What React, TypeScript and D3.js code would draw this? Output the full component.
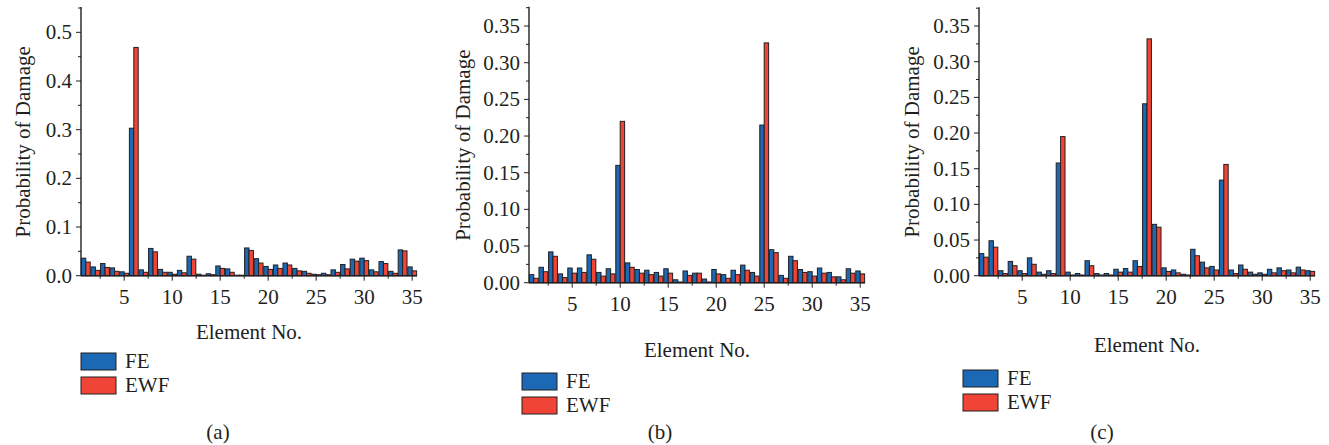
import React from "react";
import * as d3 from "d3";

// Element numbers 1..35
const elements: number[] = d3.range(1, 36);

// Panel (a)
const feA = [0.036, 0.018, 0.025, 0.016, 0.008, 0.303, 0.012, 0.056, 0.013, 0.007, 0.011, 0.040, 0.003, 0.004, 0.020, 0.014, 0.001, 0.057, 0.035, 0.019, 0.022, 0.026, 0.015, 0.009, 0.003, 0.005, 0.012, 0.023, 0.034, 0.036, 0.012, 0.029, 0.009, 0.053, 0.018];
const ewfA = [0.028, 0.011, 0.017, 0.009, 0.005, 0.469, 0.007, 0.049, 0.007, 0.003, 0.006, 0.034, 0.001, 0.002, 0.015, 0.007, 0.001, 0.052, 0.026, 0.013, 0.015, 0.022, 0.010, 0.005, 0.002, 0.002, 0.007, 0.014, 0.030, 0.031, 0.008, 0.025, 0.005, 0.051, 0.010];

// Panel (b)
const feB = [0.011, 0.021, 0.042, 0.012, 0.020, 0.020, 0.038, 0.014, 0.019, 0.160, 0.027, 0.018, 0.017, 0.014, 0.019, 0.004, 0.016, 0.013, 0.005, 0.018, 0.011, 0.017, 0.024, 0.014, 0.215, 0.045, 0.010, 0.036, 0.018, 0.015, 0.020, 0.014, 0.008, 0.019, 0.016];
const ewfB = [0.006, 0.015, 0.036, 0.007, 0.013, 0.014, 0.032, 0.009, 0.012, 0.220, 0.021, 0.013, 0.011, 0.009, 0.013, 0.001, 0.010, 0.013, 0.001, 0.012, 0.006, 0.011, 0.017, 0.009, 0.327, 0.041, 0.006, 0.030, 0.014, 0.009, 0.013, 0.008, 0.004, 0.013, 0.012];

// Panel (c)
const feC = [0.031, 0.049, 0.007, 0.020, 0.007, 0.025, 0.005, 0.007, 0.158, 0.005, 0.003, 0.021, 0.003, 0.003, 0.009, 0.010, 0.021, 0.241, 0.072, 0.011, 0.008, 0.002, 0.037, 0.019, 0.013, 0.134, 0.008, 0.015, 0.005, 0.004, 0.009, 0.011, 0.008, 0.012, 0.007];
const ewfC = [0.026, 0.040, 0.003, 0.014, 0.003, 0.016, 0.002, 0.003, 0.195, 0.001, 0.001, 0.014, 0.001, 0.001, 0.005, 0.005, 0.013, 0.332, 0.068, 0.006, 0.004, 0.001, 0.028, 0.011, 0.008, 0.156, 0.003, 0.009, 0.002, 0.002, 0.004, 0.007, 0.004, 0.008, 0.006];

const xTickValues = [5, 10, 15, 20, 25, 30, 35];
const xMinorTicks = [2.5, 7.5, 12.5, 17.5, 22.5, 27.5, 32.5];
const seriesNames = ["FE", "EWF"];
const captions = ["(a)", "(b)", "(c)"];

const BLUE = "#1b69b4";
const RED = "#ef4436";
const INK = "#231f20";
const textStyle: React.CSSProperties = {
  fontFamily: '"Liberation Serif", "Times New Roman", Times, serif',
  fontSize: "21px",
};

type PanelProps = {
  fe: number[];
  ewf: number[];
  axisX: number;
  xEnd: number;
  top: number;
  base: number;
  yMax: number;
  major: number;
  minor: number;
  fmt: string;
  yLabelX: number;
  titleY: number;
  legendX: number;
  legendY: number;
  caption: string;
  captionX: number;
};

function Panel(p: PanelProps) {
  const x = d3.scaleLinear().domain([0.5, 35.5]).range([p.axisX, p.xEnd]);
  const y = d3.scaleLinear().domain([0, p.yMax]).range([p.base, p.top]);
  const step = x(2) - x(1);
  const barW = step * 0.46;
  const fmt = d3.format(p.fmt);
  const nMajor = Math.floor(p.yMax / p.major + 1e-9);
  const yMajor = d3.range(0, nMajor + 1).map((i) => +(i * p.major).toFixed(4));
  const nMinor = Math.floor(p.yMax / p.minor + 1e-9);
  const yMinor = d3
    .range(0, nMinor + 1)
    .map((i) => +(i * p.minor).toFixed(4))
    .filter((v) => !yMajor.some((m) => Math.abs(m - v) < 1e-6));

  return (
    <g fill={INK}>
      {/* bars */}
      {elements.map((e, i) => (
        <g key={e}>
          <rect
            x={x(e) - barW}
            y={y(p.fe[i])}
            width={barW}
            height={p.base - y(p.fe[i])}
            fill={BLUE}
            stroke={INK}
            strokeWidth={1}
          />
          <rect
            x={x(e)}
            y={y(p.ewf[i])}
            width={barW}
            height={p.base - y(p.ewf[i])}
            fill={RED}
            stroke={INK}
            strokeWidth={1}
          />
        </g>
      ))}
      {/* axes */}
      <line x1={p.axisX} x2={p.axisX} y1={p.top - 1} y2={p.base} stroke={INK} strokeWidth={1.4} />
      <line x1={p.axisX} x2={p.xEnd} y1={p.base} y2={p.base} stroke={INK} strokeWidth={1.4} />
      {yMajor.map((v) => (
        <g key={"ym" + v}>
          <line x1={p.axisX - 5} x2={p.axisX} y1={y(v)} y2={y(v)} stroke={INK} strokeWidth={1} />
          <text x={p.axisX - 9} y={y(v) + 7} textAnchor="end" style={textStyle}>
            {fmt(v)}
          </text>
        </g>
      ))}
      {yMinor.map((v) => (
        <line key={"yn" + v} x1={p.axisX - 3} x2={p.axisX} y1={y(v)} y2={y(v)} stroke={INK} strokeWidth={1} />
      ))}
      {xTickValues.map((v) => (
        <g key={"xm" + v}>
          <line x1={x(v)} x2={x(v)} y1={p.base} y2={p.base + 5} stroke={INK} strokeWidth={1} />
          <text x={x(v)} y={p.base + 28} textAnchor="middle" style={textStyle}>
            {v}
          </text>
        </g>
      ))}
      {xMinorTicks.map((v) => (
        <line key={"xn" + v} x1={x(v)} x2={x(v)} y1={p.base} y2={p.base + 3} stroke={INK} strokeWidth={1} />
      ))}
      {/* axis titles */}
      <text
        transform={`translate(${p.yLabelX + 7},${(p.top + p.base) / 2}) rotate(-90)`}
        textAnchor="middle"
        style={textStyle}
      >
        Probability of Damage
      </text>
      <text x={(p.axisX + p.xEnd) / 2} y={p.titleY + 7} textAnchor="middle" style={textStyle}>
        Element No.
      </text>
      {/* legend */}
      {seriesNames.map((name, i) => (
        <g key={name} transform={`translate(${p.legendX},${p.legendY + i * 24})`}>
          <rect x={0} y={0} width={35} height={17} fill={i === 0 ? BLUE : RED} stroke={INK} strokeWidth={1} />
          <text x={44} y={15} style={textStyle}>
            {name}
          </text>
        </g>
      ))}
      <text x={p.captionX} y={439} textAnchor="middle" style={textStyle}>
        {p.caption}
      </text>
    </g>
  );
}

export default function App() {
  return (
    <svg
      width={1329}
      height={445}
      style={{ position: "absolute", left: 0, top: 0, background: "#fff" }}
    >
      <Panel
        fe={feA}
        ewf={ewfA}
        axisX={81}
        xEnd={417}
        top={8}
        base={275.7}
        yMax={0.55}
        major={0.1}
        minor={0.05}
        fmt=".1f"
        yLabelX={23}
        titleY={332}
        legendX={81}
        legendY={353}
        caption={captions[0]}
        captionX={218}
      />
      <Panel
        fe={feB}
        ewf={ewfB}
        axisX={529}
        xEnd={865}
        top={7.7}
        base={282.7}
        yMax={0.375}
        major={0.05}
        minor={0.025}
        fmt=".2f"
        yLabelX={463}
        titleY={350}
        legendX={522}
        legendY={373}
        caption={captions[1]}
        captionX={660}
      />
      <Panel
        fe={feC}
        ewf={ewfC}
        axisX={979}
        xEnd={1315}
        top={8.2}
        base={275.7}
        yMax={0.375}
        major={0.05}
        minor={0.025}
        fmt=".2f"
        yLabelX={912}
        titleY={345}
        legendX={963}
        legendY={370}
        caption={captions[2]}
        captionX={1102}
      />
    </svg>
  );
}
